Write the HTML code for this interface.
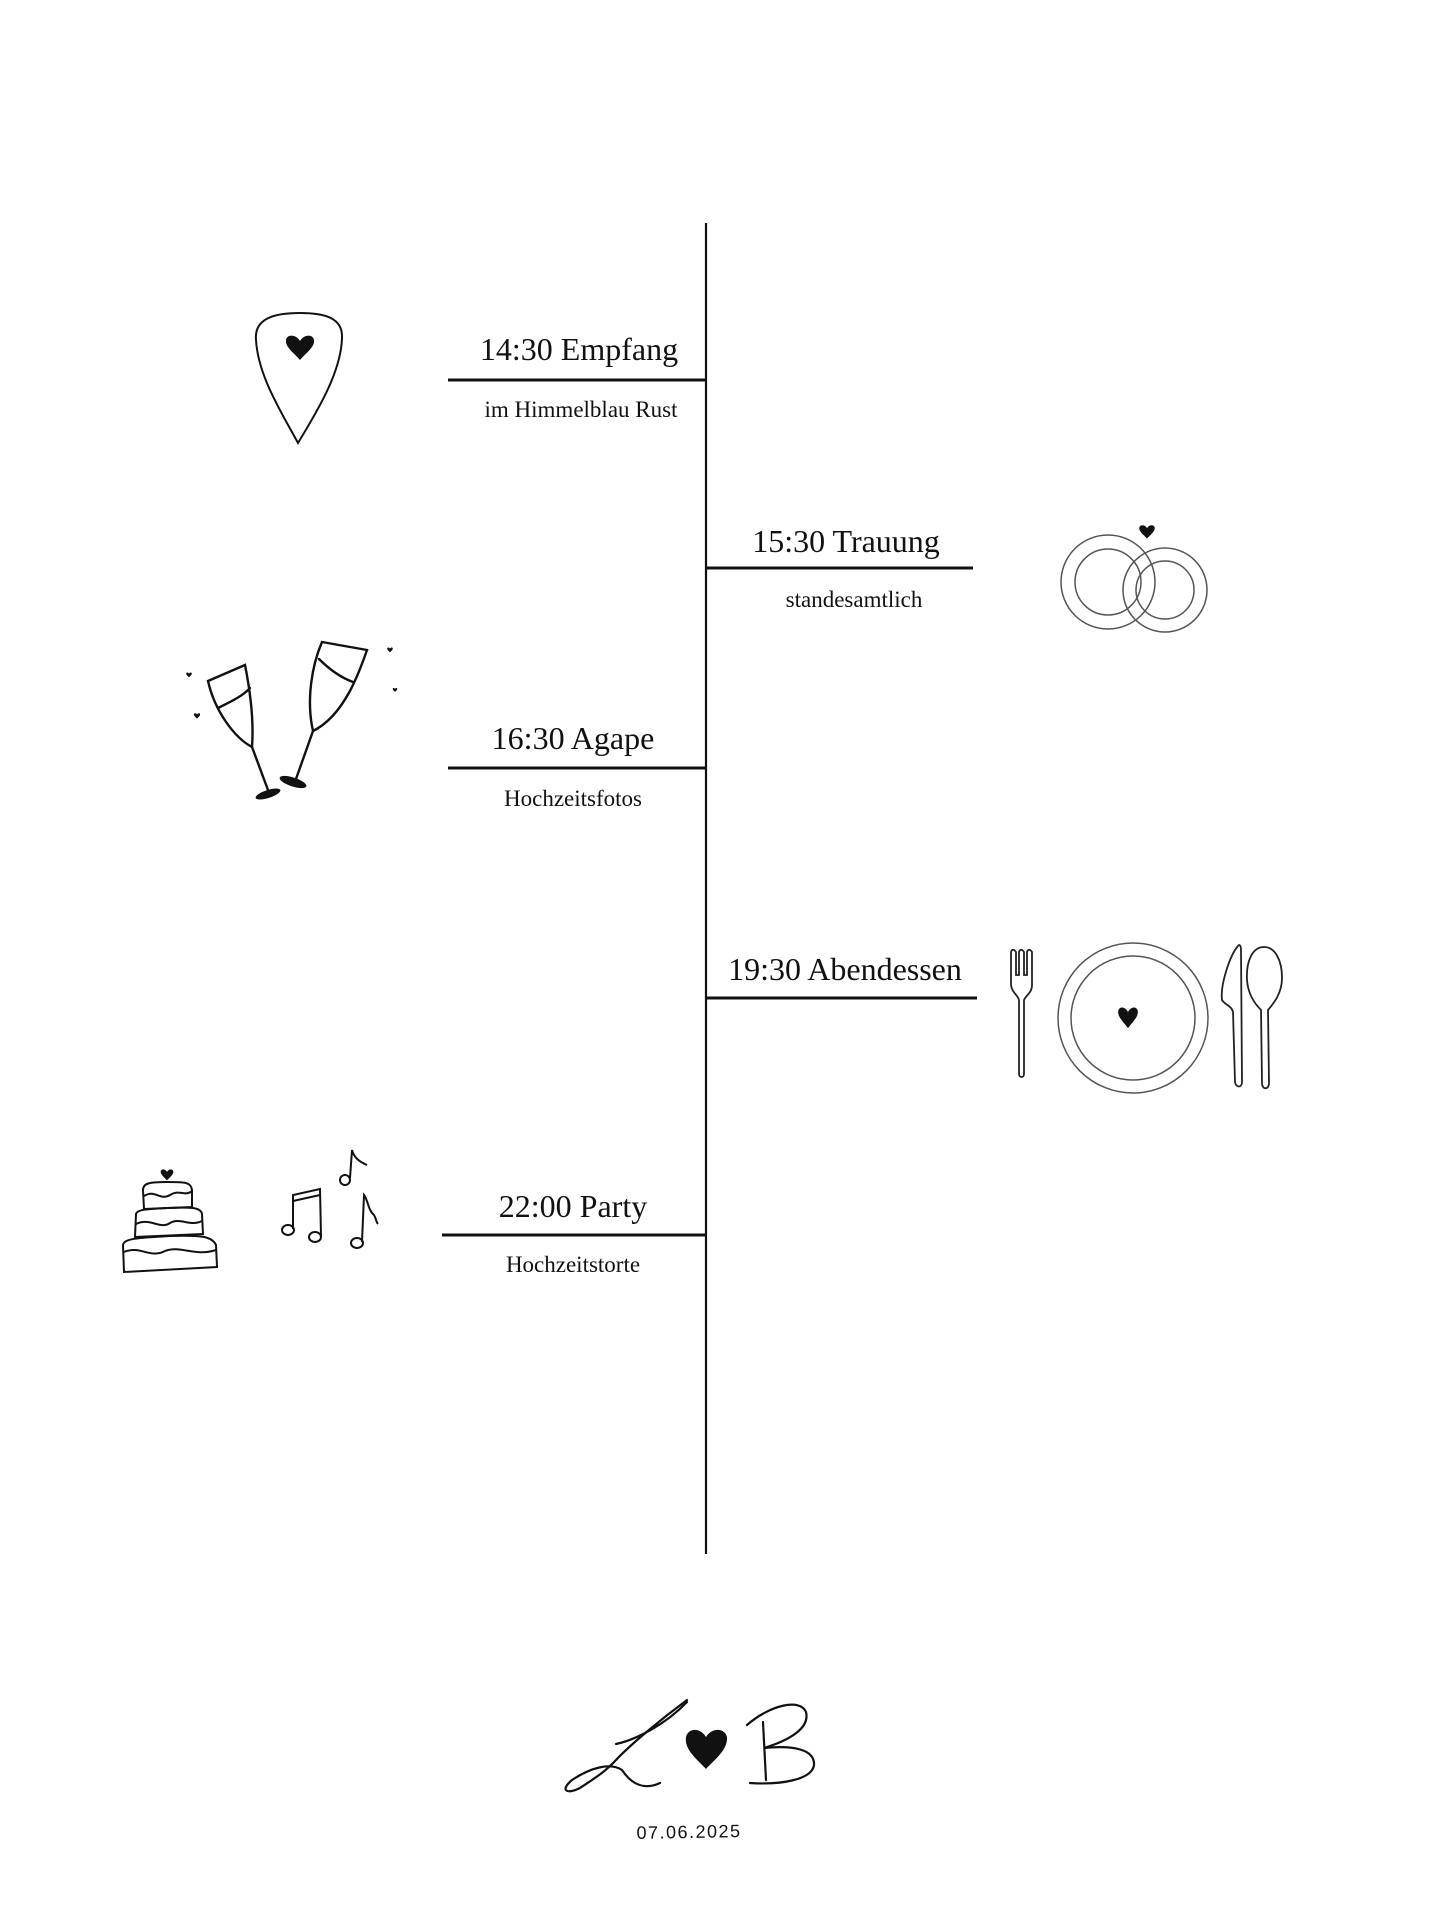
<!DOCTYPE html>
<html><head><meta charset="utf-8"><style>
html,body{margin:0;padding:0;background:#fff}
svg{display:block}
.t{font-family:"Liberation Serif",serif;font-size:32px;fill:#111;text-anchor:middle}
.s{font-family:"Liberation Serif",serif;font-size:23px;fill:#111;text-anchor:middle}
</style></head><body>
<svg width="1440" height="1920" viewBox="0 0 1440 1920" xmlns="http://www.w3.org/2000/svg">
<g stroke="#111" fill="none">
<line x1="706" y1="223" x2="706" y2="1554" stroke-width="2.2"/>
<line x1="448" y1="380" x2="706" y2="380" stroke-width="3"/>
<line x1="706" y1="568" x2="973" y2="568" stroke-width="3"/>
<line x1="448" y1="768" x2="706" y2="768" stroke-width="3"/>
<line x1="706" y1="998" x2="977" y2="998" stroke-width="3"/>
<line x1="442" y1="1235" x2="706" y2="1235" stroke-width="3"/>
</g>
<text class="t" x="579" y="360">14:30 Empfang</text>
<text class="s" x="581" y="417">im Himmelblau Rust</text>
<text class="t" x="846" y="552">15:30 Trauung</text>
<text class="s" x="854" y="607">standesamtlich</text>
<text class="t" x="573" y="749">16:30 Agape</text>
<text class="s" x="573" y="806">Hochzeitsfotos</text>
<text class="t" x="845" y="980">19:30 Abendessen</text>
<text class="t" x="573" y="1217">22:00 Party</text>
<text class="s" x="573" y="1272">Hochzeitstorte</text>

<defs><path id="h" d="M0 12 C-6 5 -15 -1 -14 -8 C-13 -14 -4 -14 0 -7 C4 -14 13 -14 14 -8 C15 -1 6 5 0 12Z"/></defs>

<path d="M298 443 C280 410 258 375 256 340 C254 318 275 313 300 313 C325 313 343 318 342 338 C341 372 318 410 298 443Z" stroke="#111" stroke-width="2" fill="none"/>
<use href="#h" transform="translate(300,348)" fill="#111"/>

<g stroke="#555" stroke-width="1.5" fill="none">
<circle cx="1108" cy="582" r="47"/><circle cx="1108" cy="582" r="33"/>
<circle cx="1165" cy="590" r="42"/><circle cx="1165" cy="590" r="29"/>
</g>
<use href="#h" transform="translate(1147,532) scale(0.55)" fill="#111"/>

<g stroke="#111" stroke-width="2.4" fill="none" stroke-linecap="round">
<path d="M208 681 L245 665 C250 690 254 720 252 747 C235 738 215 712 208 681Z"/>
<path d="M218 708 C230 702 243 696 250 688"/>
<path d="M252 747 L268 790"/>
<path d="M322 642 L367 650 C360 670 345 715 313 731 C306 700 312 665 322 642Z"/>
<path d="M319 659 C330 670 342 678 353 682"/>
<path d="M313 731 L296 779"/>
</g>
<ellipse cx="268" cy="794" rx="13" ry="4" transform="rotate(-18 268 794)" fill="#111"/>
<ellipse cx="293" cy="782" rx="14" ry="4.5" transform="rotate(18 293 782)" fill="#111"/>
<use href="#h" transform="translate(189,675) scale(0.2)" fill="#111"/>
<use href="#h" transform="translate(197,716) scale(0.22)" fill="#111"/>
<use href="#h" transform="translate(390,650) scale(0.2)" fill="#111"/>
<use href="#h" transform="translate(395,690) scale(0.16)" fill="#111"/>

<g stroke="#222" stroke-width="1.8" fill="none">
<path d="M1011 952 L1011 985 C1012 993 1018 995 1019 1000 L1019 1074 C1019 1078 1024 1078 1024 1074 L1024 1000 C1026 995 1032 993 1032 985 L1032 952 C1030 949 1028 949 1027 952 L1027 975 L1024 975 L1024 952 C1022 949 1020 949 1019 952 L1019 975 L1016 975 L1016 952 C1014 949 1012 949 1011 952Z"/>
<path d="M1238 946 C1230 955 1220 985 1222 1000 C1225 1005 1232 1006 1233 1012 L1235 1082 C1236 1088 1242 1088 1242 1082 L1241 950 C1241 945 1239 944 1238 946Z"/>
<path d="M1264 947 C1252 947 1246 962 1247 980 C1248 995 1256 1005 1261 1010 L1262 1083 C1262 1090 1269 1090 1269 1083 L1268 1010 C1274 1003 1282 993 1282 978 C1282 960 1275 947 1264 947Z"/>
</g>
<g stroke="#555" stroke-width="1.5" fill="none">
<circle cx="1133" cy="1018" r="75"/><circle cx="1133" cy="1018" r="62"/>
</g>
<use href="#h" transform="translate(1128,1018) scale(0.7,0.85)" fill="#111"/>

<g stroke="#111" stroke-width="2" fill="none">
<path d="M144 1209 L143 1190 C143 1183 150 1182 167 1182 C185 1182 191 1182 192 1190 L192 1207 Z"/>
<path d="M144 1196 C155 1189 160 1201 170 1195 C180 1189 185 1197 192 1191"/>
<path d="M135 1237 L136 1214 C137 1209 150 1209 167 1208 C190 1207 201 1207 202 1214 L203 1234 Z"/>
<path d="M136 1224 C150 1217 160 1230 170 1223 C180 1217 190 1227 202 1221"/>
<path d="M124 1272 L123 1245 C124 1238 140 1238 170 1236 C200 1235 212 1236 216 1245 L217 1267 Z"/>
<path d="M124 1252 C140 1245 150 1259 165 1251 C180 1245 195 1257 216 1250"/>
</g>
<use href="#h" transform="translate(167,1175) scale(0.45)" fill="#111"/>

<g stroke="#111" stroke-width="2" fill="none">
<ellipse cx="288" cy="1230" rx="6" ry="5"/><ellipse cx="315" cy="1237" rx="6" ry="5"/>
<path d="M293 1229 L293 1195 L320 1189 L321 1236"/>
<path d="M293 1201 L320 1195"/>
<ellipse cx="357" cy="1243" rx="6" ry="5"/>
<path d="M362 1242 L364 1195 C368 1200 368 1210 374 1215 C376 1218 376 1222 378 1224"/>
<ellipse cx="345" cy="1180" rx="5" ry="5"/>
<path d="M350 1178 L352 1150 C354 1158 360 1162 367 1165"/>
</g>

<g stroke="#111" stroke-width="2.2" fill="none" stroke-linecap="round">
<path d="M687 1700 C660 1720 630 1745 616 1760 C605 1772 595 1778 580 1788 C566 1795 560 1790 572 1780 C590 1768 610 1762 622 1770 C632 1785 645 1790 660 1783"/>
<path d="M616 1744 C635 1740 665 1725 687 1702"/>
<path d="M763 1722 L766 1780"/>
<path d="M747 1725 C770 1705 800 1698 806 1712 C810 1728 790 1740 764 1748 C795 1745 815 1750 814 1765 C812 1780 780 1785 750 1783"/>
</g>
<path d="M706 1769 C698 1760 684 1750 686 1737 C688 1728 700 1727 706 1737 C712 1727 725 1728 727 1737 C728 1750 714 1760 706 1769Z" fill="#111"/>
<text x="689" y="1838" font-family="'Liberation Sans Narrow','Liberation Sans',sans-serif" font-size="18" fill="#111" text-anchor="middle" letter-spacing="1.5" transform="rotate(-1 689 1830)">07.06.2025</text>
</svg>
</body></html>
